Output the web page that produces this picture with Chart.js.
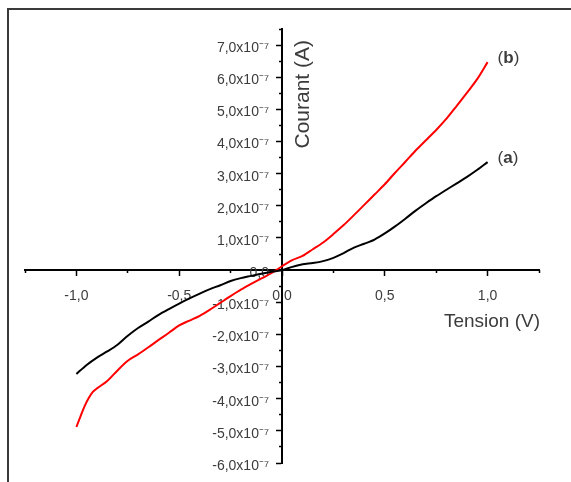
<!DOCTYPE html>
<html>
<head>
<meta charset="utf-8">
<script src="https://cdn.jsdelivr.net/npm/chart.js@4/dist/chart.umd.min.js"></script>
<style>
  html, body { margin: 0; padding: 0; background: #fff; overflow: hidden; }
  #wrap { position: relative; width: 571px; height: 482px; overflow: hidden; }
  #frame { position: absolute; left: 7px; top: 8px; right: 0; bottom: 0;
           border-top: 2px solid #3a3a3a; border-left: 2px solid #3a3a3a; pointer-events: none; }
  canvas { position: absolute; left: 0; top: 0; }
</style>
</head>
<body>
<div id="wrap">
  <canvas id="c" width="571" height="482"></canvas>
  <div id="frame"></div>
</div>
<script>
// Voltage (V) and current (units of 1e-7 A)
const voltA = [-1.0,-0.95,-0.9,-0.85,-0.8,-0.75,-0.7,-0.65,-0.6,-0.55,-0.5,-0.45,-0.4,-0.35,-0.3,-0.25,-0.2,-0.15,-0.1,-0.05,0,0.05,0.1,0.15,0.2,0.25,0.3,0.35,0.4,0.45,0.5,0.55,0.6,0.65,0.7,0.75,0.8,0.85,0.9,0.95,1.0];
const currA = [-3.23,-2.95,-2.72,-2.53,-2.32,-2.04,-1.80,-1.60,-1.39,-1.21,-1.04,-0.88,-0.73,-0.59,-0.47,-0.34,-0.25,-0.18,-0.11,-0.05,0,0.10,0.18,0.22,0.28,0.38,0.53,0.70,0.82,0.95,1.14,1.36,1.60,1.85,2.08,2.30,2.50,2.70,2.90,3.12,3.36];
const voltB = [-1.0,-0.98,-0.96,-0.94,-0.92,-0.9,-0.85,-0.8,-0.75,-0.7,-0.65,-0.6,-0.55,-0.5,-0.45,-0.4,-0.35,-0.3,-0.25,-0.2,-0.15,-0.1,-0.05,0,0.05,0.1,0.15,0.2,0.25,0.3,0.35,0.4,0.45,0.5,0.55,0.6,0.65,0.7,0.75,0.8,0.85,0.9,0.95,1.0];
const currB = [-4.88,-4.55,-4.23,-3.98,-3.79,-3.68,-3.45,-3.12,-2.82,-2.62,-2.40,-2.17,-1.95,-1.72,-1.57,-1.42,-1.23,-1.02,-0.81,-0.61,-0.43,-0.26,-0.09,0.12,0.31,0.44,0.65,0.86,1.12,1.40,1.71,2.03,2.35,2.67,3.03,3.37,3.72,4.04,4.36,4.71,5.11,5.52,5.95,6.47];
const seriesNames = ['(a)', '(b)'];
const xTitle = 'Tension (V)';
const yTitle = 'Courant (A)';
const xRange = [-1.25, 1.25];
const yRange = [-6, 7.5];
const xTickVals = [-1, -0.5, 0, 0.5, 1];
const xMinorVals = [-1.25, -0.75, -0.25, 0.25, 0.75, 1.25];
const yTickVals = [-6, -5, -4, -3, -2, -1, 0, 1, 2, 3, 4, 5, 6, 7];
const yMinorVals = [-5.5, -4.5, -3.5, -2.5, -1.5, -0.5, 0.5, 1.5, 2.5, 3.5, 4.5, 5.5, 6.5, 7.5];

const toPts = (xs, ys) => xs.map((v, i) => ({x: v, y: ys[i]}));
const fmtX = v => (Math.abs(v) < 1e-9 ? '0,0' : v.toFixed(1).replace('.', ','));
const fmtY = v => (Math.abs(v) < 1e-9 ? '0,0' : v.toFixed(1).replace('.', ',') + 'x10\u207B\u2077');

const TXT = '#3c3c3c';
const FONT = 'Liberation Sans, Arial, sans-serif';
const zeroFit = s => { if (s.isHorizontal()) s.height = 0; else s.width = 0; };
const Y_LABEL_GAP = 13;

const decor = {
  id: 'decor',
  beforeDraw(chart) {
    // move the y axis tick labels left of the tick marks (library places them on the axis line)
    const s = chart.scales.y;
    s.getLabelItems(chart.chartArea).forEach(it => {
      if (!it._moved) { it.options.translation[0] -= Y_LABEL_GAP; it._moved = true; }
    });
  },
  afterDraw(chart) {
    const {ctx} = chart;
    const xs = chart.scales.x, ys = chart.scales.y;
    ctx.save();
    ctx.fillStyle = TXT;
    // x title
    ctx.font = '19px ' + FONT;
    ctx.textAlign = 'right';
    ctx.textBaseline = 'middle';
    ctx.fillText(xTitle, xs.right + 1, ys.getPixelForValue(0) + 52);
    // y title (rotated)
    ctx.save();
    ctx.translate(xs.getPixelForValue(0) + 21, ys.top + 11);
    ctx.rotate(-Math.PI / 2);
    ctx.textAlign = 'right';
    ctx.font = '21px ' + FONT;
    ctx.fillText(yTitle, 0, 0);
    ctx.restore();
    // series labels
    const drawLbl = (name, vx, vy) => {
      const x = xs.getPixelForValue(vx) + 10;
      const y = ys.getPixelForValue(vy) - 4;
      ctx.textAlign = 'left';
      ctx.font = '17px ' + FONT;
      const p1 = name[0], mid = name.slice(1, -1), p2 = name.slice(-1);
      ctx.fillText(p1, x, y);
      let w = ctx.measureText(p1).width;
      ctx.font = 'bold 17px ' + FONT;
      ctx.fillText(mid, x + w, y);
      w += ctx.measureText(mid).width;
      ctx.font = '17px ' + FONT;
      ctx.fillText(p2, x + w, y);
    };
    drawLbl(seriesNames[0], voltA[voltA.length - 1], currA[currA.length - 1]);
    drawLbl(seriesNames[1], voltB[voltB.length - 1], currB[currB.length - 1]);
    ctx.restore();
  }
};

new Chart(document.getElementById('c'), {
  type: 'line',
  data: {
    datasets: [
      { label: seriesNames[0], data: toPts(voltA, currA), borderColor: '#000000', borderWidth: 2, pointRadius: 0, tension: 0.3, fill: false },
      { label: seriesNames[1], data: toPts(voltB, currB), borderColor: '#ff0000', borderWidth: 2, pointRadius: 0, tension: 0.3, fill: false }
    ]
  },
  options: {
    responsive: false,
    animation: false,
    layout: { padding: { left: 25, top: 29, right: 32, bottom: 19 } },
    plugins: { legend: { display: false }, tooltip: { enabled: false } },
    scales: {
      x: {
        type: 'linear', min: xRange[0], max: xRange[1], position: { y: 0 },
        afterFit: zeroFit,
        afterBuildTicks: s => { s.ticks = xTickVals.map(v => ({value: v})); },
        ticks: { callback: v => fmtX(v), color: TXT, font: { size: 14, family: FONT }, padding: 13, maxRotation: 0, autoSkip: false },
        grid: { drawOnChartArea: false, drawTicks: true, tickLength: 5, tickColor: '#000', tickWidth: 1.5 },
        border: { display: true, color: '#000', width: 2 }
      },
      xm: {
        type: 'linear', min: xRange[0], max: xRange[1], position: { y: 0 },
        afterFit: zeroFit,
        afterBuildTicks: s => { s.ticks = xMinorVals.map(v => ({value: v})); },
        ticks: { display: false },
        grid: { drawOnChartArea: false, drawTicks: true, tickLength: 3, tickColor: '#000', tickWidth: 1.5 },
        border: { display: false }
      },
      y: {
        type: 'linear', min: yRange[0], max: yRange[1], position: { x: 0 },
        afterFit: zeroFit,
        afterBuildTicks: s => { s.ticks = yTickVals.map(v => ({value: v})); },
        ticks: { callback: v => fmtY(v), color: TXT, font: { size: 14, family: FONT }, labelOffset: 3, autoSkip: false },
        grid: { drawOnChartArea: false, drawTicks: true, tickLength: 5, tickColor: '#000', tickWidth: 1.5 },
        border: { display: true, color: '#000', width: 2 }
      },
      ym: {
        type: 'linear', min: yRange[0], max: yRange[1], position: { x: 0 },
        afterFit: zeroFit,
        afterBuildTicks: s => { s.ticks = yMinorVals.map(v => ({value: v})); },
        ticks: { display: false },
        grid: { drawOnChartArea: false, drawTicks: true, tickLength: 3, tickColor: '#000', tickWidth: 1.5 },
        border: { display: false }
      }
    }
  },
  plugins: [decor]
});
</script>
</body>
</html>
